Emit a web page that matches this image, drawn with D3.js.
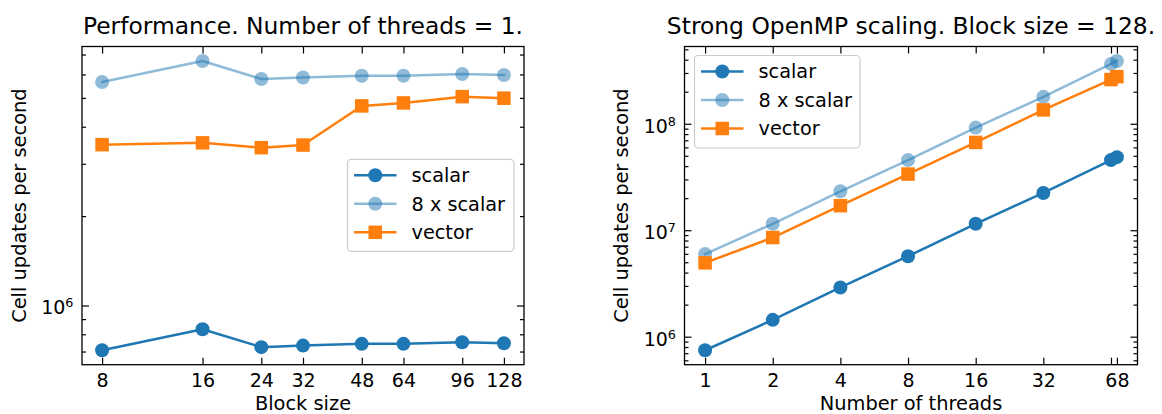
<!DOCTYPE html>
<html>
<head>
<meta charset="utf-8">
<script src="https://cdn.jsdelivr.net/npm/d3@7"></script>
<style>
  body { margin: 0; background: #fff; }
  svg { display: block; font-family: "DejaVu Sans", sans-serif; }
</style>
</head>
<body>
<div class="chart"></div>
<script>
// ---- data ----
const blockSizes = [8, 16, 24, 32, 48, 64, 96, 128];
const blockTickLabels = ["8", "16", "24", "32", "48", "64", "96", "128"];
const blockScalar = [7.07e5, 8.32e5, 7.24e5, 7.33e5, 7.43e5, 7.43e5, 7.52e5, 7.46e5];
const block8xScalar = [5.66e6, 6.66e6, 5.79e6, 5.86e6, 5.94e6, 5.94e6, 6.02e6, 5.97e6];
const blockVector = [3.48e6, 3.53e6, 3.40e6, 3.47e6, 4.70e6, 4.81e6, 5.05e6, 4.99e6];

const threads = [1, 2, 4, 8, 16, 32, 64, 68];
const threadTickLabels = ["1", "2", "4", "8", "16", "32", "", "68"];
const threadScalar = [7.46e5, 1.44e6, 2.90e6, 5.70e6, 1.15e7, 2.24e7, 4.56e7, 4.86e7];
const thread8xScalar = [5.97e6, 1.15e7, 2.32e7, 4.56e7, 9.2e7, 1.79e8, 3.65e8, 3.89e8];
const threadVector = [4.94e6, 8.54e6, 1.70e7, 3.37e7, 6.68e7, 1.35e8, 2.60e8, 2.77e8];

const seriesNames = ["scalar", "8 x scalar", "vector"];

const width = 1162, height = 414;
const tickFont = 19, labelFont = 19.4, legendFont = 19.3, titleFont = 23.4;

const svg = d3.select(".chart").append("svg")
  .attr("width", width)
  .attr("height", height);

const styles = [
  {color: "#1f77b4", opacity: 1, marker: "circle"},
  {color: "#1f77b4", opacity: 0.5, marker: "circle"},
  {color: "#ff7f0e", opacity: 1, marker: "square"}
];

function logPad(lo, hi, base) {
  // matplotlib style 5% margin in log space
  const a = Math.log(lo) / Math.log(base), b = Math.log(hi) / Math.log(base);
  const m = (b - a) * 0.05;
  return [Math.pow(base, a - m), Math.pow(base, b + m)];
}

function minorTicks(domain) {
  const out = [];
  for (let e = Math.floor(Math.log10(domain[0])); e <= Math.ceil(Math.log10(domain[1])); e++) {
    for (let k = 2; k <= 9; k++) {
      const v = k * Math.pow(10, e);
      if (v >= domain[0] && v <= domain[1]) out.push(v);
    }
  }
  return out;
}

function drawMarker(g, kind, cx, cy, color, op) {
  if (kind === "circle") {
    g.append("circle").attr("cx", cx).attr("cy", cy).attr("r", 7)
      .attr("fill", color).attr("fill-opacity", op);
  } else {
    g.append("rect").attr("x", cx - 6.75).attr("y", cy - 6.75)
      .attr("width", 13.5).attr("height", 13.5)
      .attr("fill", color).attr("fill-opacity", op);
  }
}

function panel(cfg) {
  const W = cfg.x1 - cfg.x0, H = cfg.y1 - cfg.y0;
  const g = svg.append("g").attr("transform", `translate(${cfg.x0},${cfg.y0})`);

  const allY = cfg.series.flat();
  const x = d3.scaleLog().base(2)
    .domain(logPad(d3.min(cfg.xs), d3.max(cfg.xs), 2))
    .range([0, W]);
  const yDom = logPad(d3.min(allY), d3.max(allY), 10);
  const y = d3.scaleLog().domain(yDom).range([H, 0]);

  // series
  cfg.series.forEach((vals, si) => {
    const st = styles[si];
    const pts = cfg.xs.map((d, i) => [x(d), y(vals[i])]);
    g.append("path")
      .attr("d", d3.line()(pts))
      .attr("fill", "none")
      .attr("stroke", st.color)
      .attr("stroke-opacity", st.opacity)
      .attr("stroke-width", 2.5)
      .attr("stroke-linejoin", "round")
      .attr("stroke-linecap", "square");
    pts.forEach(p => drawMarker(g, st.marker, p[0], p[1], st.color, st.opacity));
  });

  // axes with inward ticks
  const yMinor = minorTicks(yDom);
  const styleAxis = a => {
    a.select(".domain").remove();
    a.selectAll("line").attr("stroke", "#000").attr("stroke-width", 1.2);
  };

  g.append("g").attr("transform", `translate(0,${H})`)
    .call(d3.axisBottom(x).tickValues(cfg.xs).tickFormat((d, i) => cfg.xLabels[i])
      .tickSizeInner(-7).tickSizeOuter(0))
    .call(styleAxis)
    .call(a => a.selectAll("text").attr("y", 22).attr("dy", null)
      .attr("font-size", tickFont).attr("font-family", "DejaVu Sans").attr("fill", "#000"));
  g.append("g")
    .call(d3.axisTop(x).tickValues(cfg.xs).tickFormat("").tickSizeInner(-7).tickSizeOuter(0))
    .call(styleAxis);

  [["left", 0], ["right", W]].forEach(([side, tx]) => {
    const mk = side === "left" ? d3.axisLeft : d3.axisRight;
    const major = g.append("g").attr("transform", `translate(${tx},0)`)
      .call(mk(y).tickValues(cfg.yMajor).tickFormat(side === "left" ? (d => d) : "")
        .tickSizeInner(-7).tickSizeOuter(0))
      .call(styleAxis);
    g.append("g").attr("transform", `translate(${tx},0)`)
      .call(mk(y).tickValues(yMinor).tickFormat("").tickSizeInner(-4).tickSizeOuter(0))
      .call(styleAxis);
    if (side === "left") {
      major.selectAll("text").each(function(d) {
        const t = d3.select(this).text(null)
          .attr("x", -8.5).attr("y", 8.4).attr("dy", null)
          .attr("text-anchor", "end")
          .attr("font-size", tickFont).attr("font-family", "DejaVu Sans").attr("fill", "#000");
        t.append("tspan").text("10");
        t.append("tspan").attr("font-size", 12.8).attr("dy", -7).text(Math.round(Math.log10(d)));
      });
    }
  });

  g.append("rect").attr("width", W).attr("height", H)
    .attr("fill", "none").attr("stroke", "#000").attr("stroke-width", 1.3);

  // title and labels
  svg.append("text").attr("x", cfg.x0 + W / 2).attr("y", 34.3)
    .attr("text-anchor", "middle").attr("font-size", titleFont).text(cfg.title);
  svg.append("text").attr("x", cfg.x0 + W / 2).attr("y", 409.5)
    .attr("text-anchor", "middle").attr("font-size", labelFont).text(cfg.xTitle);
  svg.append("text")
    .attr("transform", `translate(${cfg.yTitleX},${cfg.y0 + H / 2}) rotate(-90)`)
    .attr("text-anchor", "middle").attr("font-size", labelFont).text("Cell updates per second");

  // legend
  const L = cfg.legend;
  const lg = svg.append("g");
  lg.append("rect").attr("x", L.x).attr("y", L.y).attr("width", L.w).attr("height", L.h)
    .attr("rx", 4).attr("fill", "#fff").attr("fill-opacity", 0.8)
    .attr("stroke", "#cccccc").attr("stroke-width", 1.2);
  seriesNames.forEach((name, i) => {
    const st = styles[i];
    const cy = L.y + 16 + i * 28.5;
    const lx = L.x + 6.5;
    lg.append("line").attr("x1", lx).attr("x2", lx + 42.5).attr("y1", cy).attr("y2", cy)
      .attr("stroke", st.color).attr("stroke-opacity", st.opacity).attr("stroke-width", 2.5);
    drawMarker(lg, st.marker, lx + 21.25, cy, st.color, st.opacity);
    lg.append("text").attr("x", lx + 57.5).attr("y", cy + 6.8)
      .attr("font-size", legendFont).text(name);
  });
}

panel({
  x0: 82, x1: 524, y0: 46.5, y1: 364.7,
  xs: blockSizes, xLabels: blockTickLabels,
  series: [blockScalar, block8xScalar, blockVector],
  yMajor: [1e6],
  title: "Performance. Number of threads = 1.",
  xTitle: "Block size",
  yTitleX: 26,
  legend: {x: 347.5, y: 159.3, w: 166.5, h: 92}
});

panel({
  x0: 684.5, x1: 1137.5, y0: 46.5, y1: 364.7,
  xs: threads, xLabels: threadTickLabels,
  series: [threadScalar, thread8xScalar, threadVector],
  yMajor: [1e6, 1e7, 1e8],
  title: "Strong OpenMP scaling. Block size = 128.",
  xTitle: "Number of threads",
  yTitleX: 628,
  legend: {x: 694.5, y: 55.5, w: 165.5, h: 92.5}
});
</script>
</body>
</html>
